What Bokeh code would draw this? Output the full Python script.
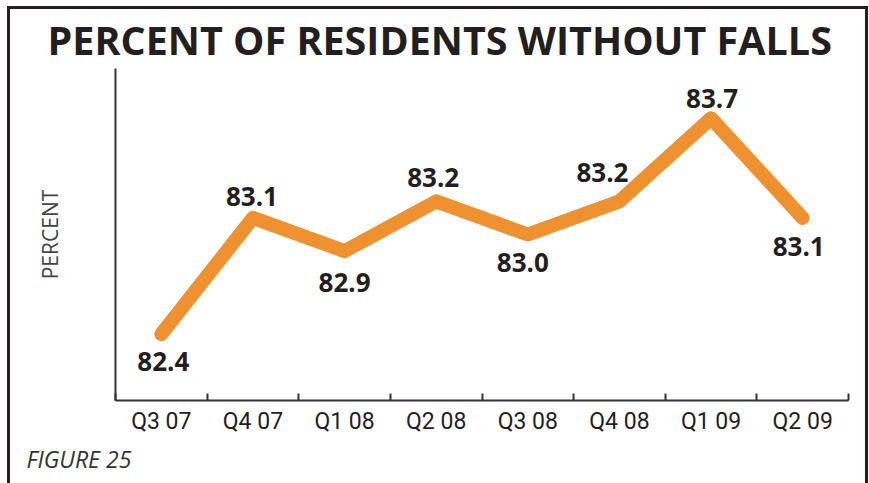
from bokeh.plotting import figure
from bokeh.models import Range1d, FixedTicker, Title, ColumnDataSource
from bokeh.core.properties import value
from bokeh.embed import file_html
from bokeh.resources import INLINE

# ---- data ----
quarters = ["Q3 07", "Q4 07", "Q1 08", "Q2 08", "Q3 08", "Q4 08", "Q1 09", "Q2 09"]
percent = [82.4, 83.1, 82.9, 83.2, 83.0, 83.2, 83.7, 83.1]
value_labels = ["82.4", "83.1", "82.9", "83.2", "83.0", "83.2", "83.7", "83.1"]

# ---- styling (label nudges in pixels) ----
label_dx = [2, -1, 0, -3, -5, -17, 1, -4]
label_dy = [27, -21, 31, -24, 28, -29, -20, 29]

TEXT = "#231F20"
ORANGE = "#F0912F"
W, H = 869, 483

xpos = [i + 0.5 for i in range(len(quarters))]
src = ColumnDataSource(dict(x=xpos, y=percent, t=value_labels, dx=label_dx, dy=label_dy))

g = "linear-gradient(#231F20,#231F20)"
frame_css = (f"{g} 7px 6px / 3px 100% no-repeat, "
             f"{g} 7px 6px / 861px 3px no-repeat, "
             f"{g} 865px 6px / 3px 100% no-repeat, white")

p = figure(width=W, height=H, output_backend="svg", toolbar_location=None,
           x_range=Range1d(0, len(quarters)), y_range=Range1d(82, 84),
           min_border_left=115, min_border_right=21, min_border_top=68, min_border_bottom=83,
           styles={"background": frame_css})
p.background_fill_color = None
p.border_fill_color = None
p.outline_line_color = None
p.xgrid.visible = False
p.ygrid.visible = False

p.title.text = "PERCENT OF RESIDENTS WITHOUT FALLS"
p.title.align = "left"
p.title.offset = -68
p.title.standoff = 4
p.title.text_font = "Open Sans"
p.title.text_font_size = "39.5px"
p.title.text_font_style = "bold"
p.title.text_color = TEXT

# x axis: labels centred in bands, ticks at band boundaries
xa = p.xaxis[0]
xa.ticker = FixedTicker(ticks=xpos, minor_ticks=list(range(len(quarters) + 1)))
xa.major_label_overrides = {x: q for x, q in zip(xpos, quarters)}
xa.major_tick_line_color = None
xa.major_tick_out = 0
xa.major_tick_in = 0
xa.minor_tick_in = 7
xa.minor_tick_out = 0
xa.minor_tick_line_color = "#333333"
xa.minor_tick_line_width = 2
xa.axis_line_color = "#333333"
xa.axis_line_width = 2
xa.major_label_standoff = 7
xa.major_label_text_font = "Roboto"
xa.major_label_text_font_size = "23px"
xa.major_label_text_color = TEXT

ya = p.yaxis[0]
ya.ticker = FixedTicker(ticks=[])
ya.major_tick_line_color = None
ya.minor_tick_line_color = None
ya.major_tick_out = 0
ya.major_label_standoff = 0
ya.major_label_text_font_size = "0px"
ya.axis_line_color = "#333333"
ya.axis_line_width = 2
ya.axis_label = "PERCENT"
ya.axis_label_standoff = 52
ya.axis_label_text_font = "Open Sans"
ya.axis_label_text_font_size = "21px"
ya.axis_label_text_font_style = "normal"
ya.axis_label_text_color = "#444444"

p.line("x", "y", source=src, line_width=14, line_color=ORANGE,
       line_cap="round", line_join="round")
p.text("x", "y", text="t", source=src, x_offset="dx", y_offset="dy",
       text_font=value("Open Sans"), text_font_style="bold", text_font_size="26px",
       text_color=TEXT, text_align="center", text_baseline="middle")

fig_title = Title(text="FIGURE 25", align="left", offset=-89, vertical_align="bottom",
                  standoff=6, text_font="Open Sans", text_font_style="italic",
                  text_font_size="23px", text_color="#333333")
p.add_layout(fig_title, "below")

open("out.html", "w").write(file_html(p, INLINE))
